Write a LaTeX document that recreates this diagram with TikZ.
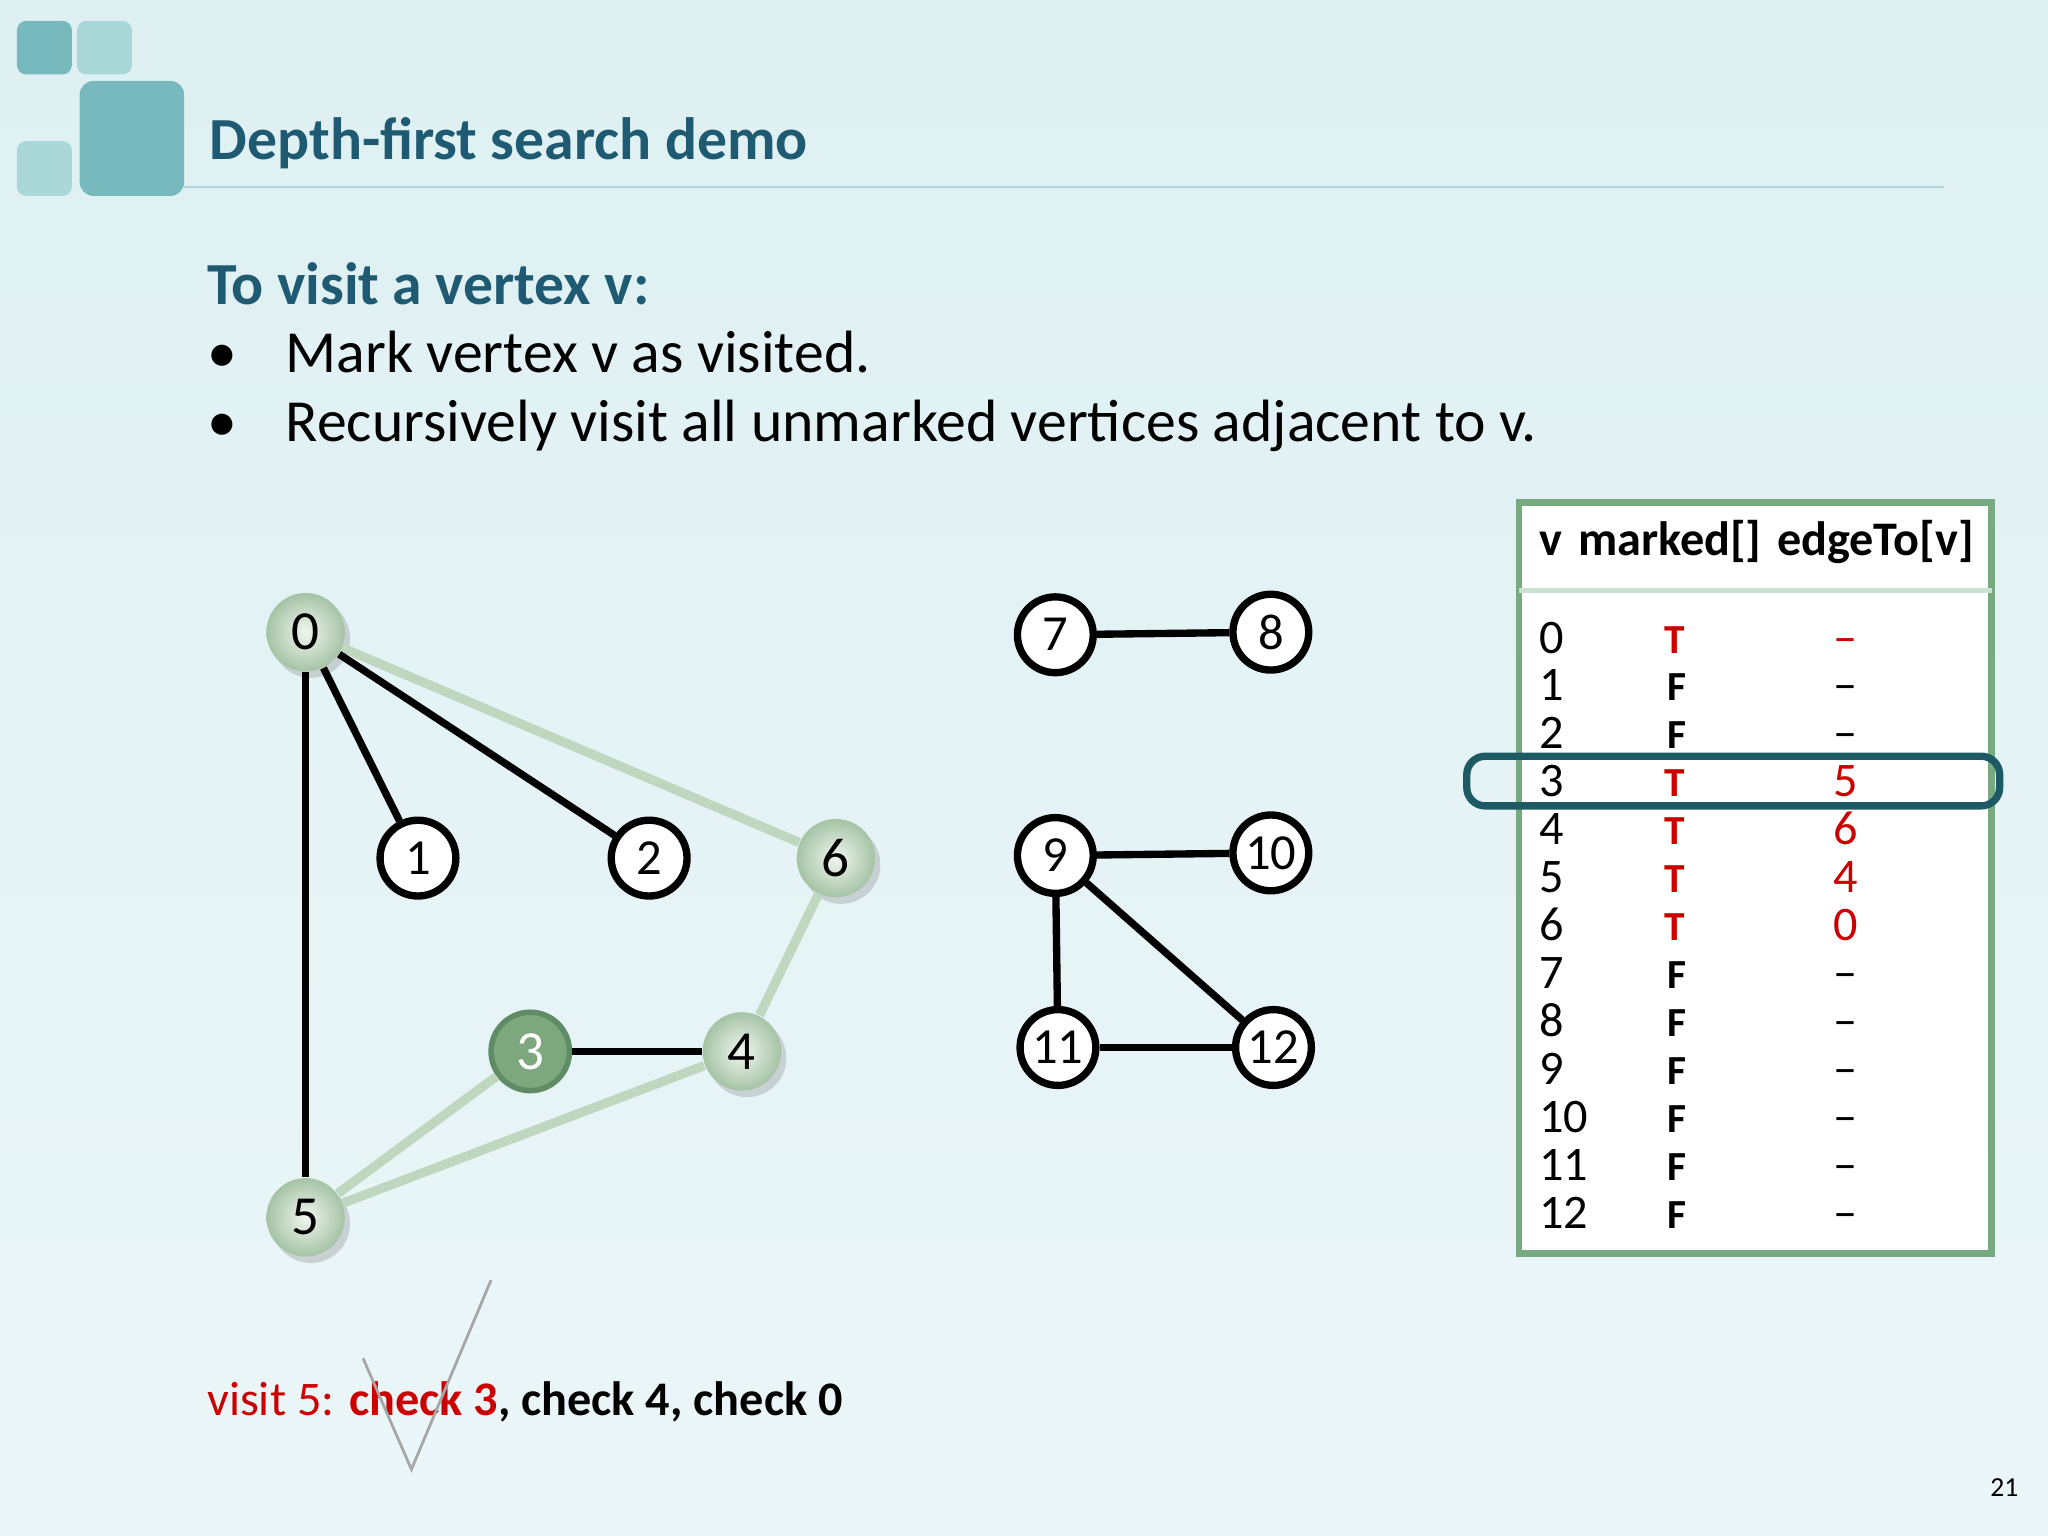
\documentclass[tikz,border=0pt]{standalone}
\usepackage{fontspec}
\setmainfont{Carlito}
\usetikzlibrary{shadows}
\begin{document}
\begin{tikzpicture}[x=0.01cm,y=-0.01cm,
 vtx/.style={circle,draw=black,line width=1.6pt,fill=white,minimum size=0.58cm,inner sep=0pt,font=\fontsize{11}{11}\selectfont},
 gvtx/.style={circle,inner color={rgb,255:red,240;green,246;blue,240},outer color={rgb,255:red,165;green,195;blue,165},drop shadow={opacity=0.3,shadow xshift=0.04cm,shadow yshift=-0.05cm},minimum size=0.6cm,inner sep=0pt,font=\fontsize{12}{12}\selectfont},
 dvtx/.style={circle,draw={rgb,255:red,95;green,140;blue,100},line width=1.2pt,fill={rgb,255:red,125;green,168;blue,125},text=white,minimum size=0.6cm,inner sep=0pt,font=\fontsize{12}{12}\selectfont},
 bl/.style={line width=1.6pt,black},
 lg/.style={line width=2pt,color={rgb,255:red,190;green,215;blue,190}},
 cell/.style={anchor=base west,font=\fontsize{10.5}{10.5}\selectfont,inner sep=0pt},
 red/.style={text={rgb,255:red,204;green,0;blue,0}}]
\definecolor{teal1}{RGB}{31,90,115}
\definecolor{sq1}{RGB}{120,185,190}
\definecolor{sq2}{RGB}{170,215,215}
\shade[top color={rgb,255:red,222;green,240;blue,242},bottom color={rgb,255:red,235;green,246;blue,249}] (0,0) rectangle (1568,1176);
\useasboundingbox (0,0) rectangle (1568,1176);
% decoration squares
\fill[sq1,rounded corners=2pt] (13,16) rectangle (55,57);
\fill[sq2,rounded corners=2pt] (59,16) rectangle (101,57);
\fill[sq1,rounded corners=3pt] (61,62) rectangle (141,150);
\fill[sq2,rounded corners=2pt] (13,108) rectangle (55,150);
\draw[sq2,line width=0.5pt] (141,143) -- (1488,143);
\node[anchor=base west,text=teal1,font=\bfseries\fontsize{13}{13}\selectfont,inner sep=0pt] (title) at (160,122) {Depth-first search demo};
\node[anchor=base west,text=teal1,font=\bfseries\fontsize{13}{13}\selectfont,inner sep=0pt] (h) at (158,233) {To visit a vertex v:};
\node[anchor=base west,font=\fontsize{13}{13}\selectfont,inner sep=0pt] (b1) at (158,285) {•};
\node[anchor=base west,font=\fontsize{13}{13}\selectfont,inner sep=0pt] (b1t) at (218,285) {Mark vertex v as visited.};
\node[anchor=base west,font=\fontsize{13}{13}\selectfont,inner sep=0pt] (b2) at (158,338) {•};
\node[anchor=base west,font=\fontsize{13}{13}\selectfont,inner sep=0pt] (b2t) at (218,338) {Recursively visit all unmarked vertices adjacent to v.};
% graph
\node[gvtx] (v0) at (234,484) {0};
\node[vtx] (v1) at (320,657) {1};
\node[vtx] (v2) at (497,657) {2};
\node[gvtx] (v6) at (640,657) {6};
\node[dvtx] (v3) at (406,805) {3};
\node[gvtx] (v4) at (568,805) {4};
\node[gvtx] (v5) at (234,932) {5};
\node[vtx] (v7) at (808,486) {7};
\node[vtx] (v8) at (973,484) {8};
\node[vtx] (v9) at (808,655) {9};
\node[vtx] (v10) at (973,653) {10};
\node[vtx] (v11) at (810,802) {11};
\node[vtx] (v12) at (975,802) {12};
\draw[lg] (v0) -- (v6);
\draw[lg] (v6) -- (v4);
\draw[lg] (v3) -- (v5);
\draw[lg] (v5) -- (v4);
\draw[bl] (v0) -- (v1);
\draw[bl] (v0) -- (v2);
\draw[bl] (v0) -- (v5);
\draw[bl] (v3) -- (v4);
\draw[bl] (v7) -- (v8);
\draw[bl] (v9) -- (v10);
\draw[bl] (v9) -- (v11);
\draw[bl] (v9) -- (v12);
\draw[bl] (v11) -- (v12);
% table
\draw[color={rgb,255:red,120;green,170;blue,130},line width=1.5pt,fill=white] (1163,385) rectangle (1525,960);
\draw[color={rgb,255:red,200;green,225;blue,210},line width=1pt] (1163,452) -- (1525,452);
\node[cell,font=\bfseries\fontsize{10.5}{10.5}\selectfont] (th) at (1178,425) {v\hspace{0.12cm}marked[]\hspace{0.12cm}edgeTo[v]};
\foreach \v/\m/\e/\mr [count=\i from 0] in {0/T/--/1,1/F/--/0,2/F/--/0,3/T/5/1,4/T/6/1,5/T/4/1,6/T/0/1,7/F/--/0,8/F/--/0,9/F/--/0,10/F/--/0,11/F/--/0,12/F/--/0}{
 \pgfmathsetmacro\yy{500+36.7*\i}
 \node[cell] (rv\i) at (1178,\yy) {\v};
 \ifnum\mr=1
  \node[cell,red,font=\bfseries\fontsize{9}{9}\selectfont] (rm\i) at (1274,\yy) {\m};
  \node[cell,red] (re\i) at (1403,\yy) {\e};
 \else
  \node[cell,font=\bfseries\fontsize{9}{9}\selectfont] (rm\i) at (1276,\yy) {\m};
  \node[cell] (re\i) at (1403,\yy) {\e};
 \fi
}
\draw[color={rgb,255:red,30;green,90;blue,100},line width=1.6pt,rounded corners=4pt] (1123,579) rectangle (1531,617);
% bottom text
\node[anchor=base west,font=\fontsize{10.5}{10.5}\selectfont,inner sep=0pt] (bt) at (158,1084) {\textcolor[RGB]{204,0,0}{visit 5: \textbf{check 3}}\textbf{, check 4, check 0}};
\coordinate (c1) at (278,1040); \coordinate (c2) at (315,1125); \coordinate (c3) at (376,980);
\draw[gray!70,line width=0.6pt] (c1) -- (c2) -- (c3);
\node[anchor=base east,font=\fontsize{6}{6}\selectfont,inner sep=0pt] (pg) at (1546,1146) {21};
\end{tikzpicture}
\end{document}
